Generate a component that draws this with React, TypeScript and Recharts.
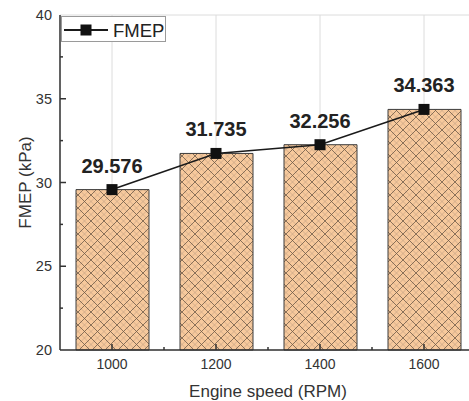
import React from 'react';
import { ComposedChart, Bar, Line, XAxis, YAxis, CartesianGrid, Legend, LabelList } from 'recharts';

const categories = ['1000', '1200', '1400', '1600'];
const fmepValues = [29.576, 31.735, 32.256, 34.363];
const yMajorTicks = [20, 25, 30, 35, 40];
const yAllTicks = [20, 22.5, 25, 27.5, 30, 32.5, 35, 37.5, 40];
const gridXTicks = [0, 1, 2, 3];

const data = categories.map((c, i) => ({ rpm: c, idx: i, fmep: fmepValues[i] }));

const FONT = '"Liberation Sans", Arial, Helvetica, sans-serif';
const AXIS = '#333';

const BottomTick = (props: any) => {
  const { x, y, payload, index, width } = props;
  const half = width / categories.length / 2;
  return (
    <g>
      <line x1={x} x2={x} y1={y} y2={y - 6} stroke={AXIS} strokeWidth={1.5} />
      {index < categories.length - 1 && (
        <line x1={x + half} x2={x + half} y1={y} y2={y - 3} stroke={AXIS} strokeWidth={1.5} />
      )}
      <text x={x} y={y + 19} textAnchor="middle" fontSize={14} fill="#333" fontFamily={FONT}>
        {payload.value}
      </text>
    </g>
  );
};

const TopTick = (props: any) => {
  const { x, y } = props;
  return (
    <g>
      <line x1={x} x2={x} y1={y} y2={y + 6} stroke={AXIS} strokeWidth={1.5} />
    </g>
  );
};

const LeftTick = (props: any) => {
  const { x, y, payload } = props;
  const major = payload.value % 5 === 0;
  const isEdge = payload.value === 20 || payload.value === 40;
  return (
    <g>
      {!isEdge && (
        <line x1={x} x2={x + (major ? 6 : 3)} y1={y} y2={y} stroke={AXIS} strokeWidth={1.5} />
      )}
      {major && (
        <text x={x - 8} y={y + 5} textAnchor="end" fontSize={14.5} fill="#333" fontFamily={FONT}>
          {payload.value}
        </text>
      )}
    </g>
  );
};

const SquareDot = (props: any) => {
  const { cx, cy } = props;
  if (cx == null || cy == null) return null;
  return <rect x={cx - 5.5} y={cy - 5.5} width={11} height={11} fill="#111" />;
};

const LegendBox = () => (
  <div
    style={{
      width: 105,
      height: 26,
      border: '1px solid #9a9a9a',
      background: '#fff',
      boxSizing: 'border-box',
    }}
  >
    <svg width={103} height={24} style={{ display: 'block' }}>
      <line x1={2} x2={46} y1={13} y2={13} stroke="#1a1a1a" strokeWidth={1.8} />
      <rect x={18.5} y={7.5} width={11} height={11} fill="#111" />
      <text x={51} y={20} fontSize={18.5} fill="#222" fontFamily={FONT}>
        FMEP
      </text>
    </svg>
  </div>
);

export default function App() {
  return (
    <div
      style={{
        position: 'absolute',
        left: 0,
        top: 0,
        width: 469,
        height: 401,
        overflow: 'hidden',
        background: '#fff',
      }}
    >
      <ComposedChart
        width={469}
        height={401}
        data={data}
        margin={{ top: 15, right: -7, bottom: 0, left: 0 }}
        style={{ fontFamily: FONT }}
      >
        <defs>
          <pattern id="hatch" patternUnits="userSpaceOnUse" width={13} height={13}>
            <rect width={13} height={13} fill="#f7c99c" />
            <path
              d="M-6.5,0 L6.5,13 M6.5,0 L19.5,13 M6.5,0 L-6.5,13 M19.5,0 L6.5,13"
              stroke="#bf9e7e"
              strokeWidth={0.6}
            />
            <path d="M0,0 L13,13 M13,0 L0,13" stroke="#6e5a48" strokeWidth={0.8} />
          </pattern>
        </defs>
        <CartesianGrid xAxisId="gridx" yAxisId="grid" stroke="#dcdcdc" strokeWidth={1} />
        <YAxis yAxisId="grid" hide domain={[20, 40]} ticks={yMajorTicks} type="number" />
        <XAxis
          xAxisId="gridx"
          dataKey="idx"
          type="number"
          hide
          domain={[-0.5, 3.5]}
          ticks={gridXTicks}
        />
        <XAxis
          dataKey="rpm"
          height={51}
          axisLine={{ stroke: AXIS, strokeWidth: 1.5 }}
          tickLine={false}
          tickSize={0}
          tickMargin={0}
          tick={<BottomTick />}
          interval={0}
          label={{
            content: (p: any) => {
              const vb = p.viewBox;
              return (
                <text
                  x={vb.x + vb.width / 2}
                  y={vb.y + 47}
                  textAnchor="middle"
                  fontSize={17}
                  fill="#333"
                  fontFamily={FONT}
                >
                  Engine speed (RPM)
                </text>
              );
            },
          }}
        />
        <XAxis
          xAxisId="top"
          dataKey="rpm"
          orientation="top"
          height={0}
          axisLine={{ stroke: AXIS, strokeWidth: 1.5 }}
          tickLine={false}
          tickSize={0}
          tickMargin={0}
          tick={<TopTick />}
          interval={0}
        />
        <YAxis
          width={60}
          domain={[20, 40]}
          ticks={yAllTicks}
          type="number"
          interval={0}
          axisLine={{ stroke: AXIS, strokeWidth: 1.5 }}
          tickLine={false}
          tickSize={0}
          tickMargin={0}
          tick={<LeftTick />}
          label={{
            content: (p: any) => {
              const vb = p.viewBox;
              const cx = vb.x + 31;
              const cy = vb.y + vb.height / 2;
              return (
                <text
                  transform={`translate(${cx}, ${cy}) rotate(-90)`}
                  textAnchor="middle"
                  fontSize={17}
                  fill="#333"
                  fontFamily={FONT}
                >
                  FMEP (kPa)
                </text>
              );
            },
          }}
        />
        <Legend
          layout="horizontal"
          verticalAlign="middle"
          align="center"
          wrapperStyle={{ top: 16, left: 61, width: 105, height: 26 }}
          content={<LegendBox />}
        />
        <Bar
          dataKey="fmep"
          barSize={73}
          fill="url(#hatch)"
          stroke="#3c3c3c"
          strokeWidth={1}
          isAnimationActive={false}
          legendType="none"
        />
        <Line
          dataKey="fmep"
          type="linear"
          stroke="#1a1a1a"
          strokeWidth={1.6}
          dot={<SquareDot />}
          activeDot={false}
          isAnimationActive={false}
        >
          <LabelList
            dataKey="fmep"
            content={(p: any) => (
              <text
                x={p.x}
                y={p.y - 17}
                textAnchor="middle"
                fontSize={20}
                fontWeight="bold"
                fill="#222"
                fontFamily={FONT}
              >
                {p.value}
              </text>
            )}
          />
        </Line>
      </ComposedChart>
    </div>
  );
}
